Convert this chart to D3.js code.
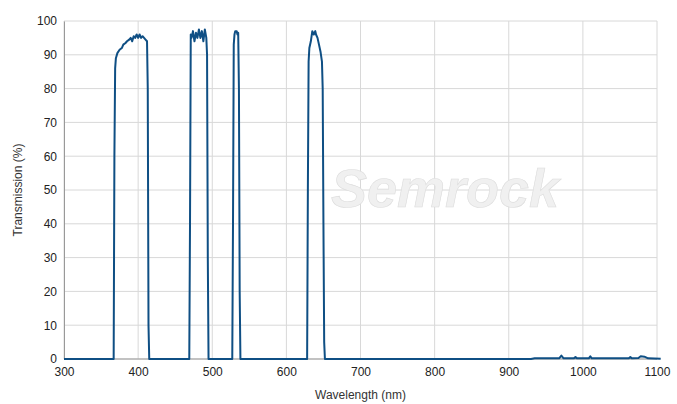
<!DOCTYPE html>
<html><head><meta charset="utf-8">
<script src="https://cdn.jsdelivr.net/npm/d3@7"></script>
<style>body{margin:0;background:#fff;font-family:"Liberation Sans",Arial,sans-serif}</style>
</head><body><svg id="c" width="677" height="404"></svg>
<script>
// transmission spectrum (nm, %)
const band1 = [[300,0],[365,0],[367,0],[368,60],[369,86],[370,89],[372,90.5],[375,91.5],[378,92],[380,93],[383,93.5],[385,94],[388,94.5],[390,95],[392,94],[394,95.5],[396,95],[398,96],[400,95],[402,96],[404,95],[406,95.5],[408,95],[410,94.5],[412,94],[413,80],[414,10],[415,0]];
const band2 = [[469,0],[470,40],[471,96],[472,95],[474,97],[476,94],[478,96.5],[480,95],[482,97.5],[484,95],[486,97],[488,94],[490,97.5],[492,95],[493,90],[494,30],[495,0]];
const band3 = [[527,0],[528,40],[529,93],[530,96],[531,97],[533,97],[534,96],[535,96.5],[536,80],[537,20],[538,0]];
const band4 = [[628,0],[629,50],[630,88],[631,92],[633,94],[635,97],[637,96],[639,97],[640,96],[642,95],[644,93],[646,91],[648,88],[649,80],[650,40],[651,5],[652,0]];
const tail = [[700,0],[930,0],[935,0.2],[968,0.2],[971,1],[974,0.2],[988,0.2],[990,0.6],[992,0.2],[1008,0.2],[1010,0.8],[1012,0.2],[1062,0.2],[1064,0.6],[1066,0.2],[1075,0.3],[1078,0.8],[1083,0.7],[1088,0.2],[1105,0.1]];
const xTicks = [300,400,500,600,700,800,900,1000,1100];
const yTicks = [0,10,20,30,40,50,60,70,80,90,100];

const data = band1.concat(band2, band3, band4, tail);
const svg = d3.select("#c");
const m = {l:64, r:20, t:21, b:45};
const W = 677, H = 404;
const x = d3.scaleLinear().domain([300,1100]).range([m.l, 657]);
const y = d3.scaleLinear().domain([0,100]).range([359, m.t]);

// grid
svg.append("g").selectAll("line").data(xTicks).join("line")
  .attr("x1", d => x(d)).attr("x2", d => x(d)).attr("y1", y(0)).attr("y2", y(100))
  .attr("stroke", "#d8d8d8");
svg.append("g").selectAll("line").data(yTicks).join("line")
  .attr("x1", m.l).attr("x2", W - m.r).attr("y1", d => y(d)).attr("y2", d => y(d))
  .attr("stroke", "#d8d8d8");

// watermark
svg.append("text").attr("x", 445).attr("y", 207).attr("text-anchor", "middle")
  .attr("font-size", 54).attr("font-weight", "bold").attr("font-style", "italic")
  .attr("fill", "#f0f0f0").attr("stroke", "#dcdcdc").attr("stroke-width", 0.6)
  .text("Semrock");

const xa = svg.append("g").attr("transform", `translate(0,${y(0)})`)
  .call(d3.axisBottom(x).tickValues(xTicks).tickFormat(d3.format("d")).tickSize(0).tickPadding(8));
xa.select(".domain").attr("stroke", "#999").attr("d", `M${m.l},0H${W - m.r}`);
const ya = svg.append("g").attr("transform", `translate(${m.l},0)`)
  .call(d3.axisLeft(y).tickValues(yTicks).tickSize(0).tickPadding(7));
ya.select(".domain").attr("stroke", "#999");
svg.selectAll(".tick text").attr("font-size", 12).attr("fill", "#222")
  .attr("font-family", "Liberation Sans, Arial, sans-serif");

svg.append("path").datum(data)
  .attr("d", d3.line().x(d => x(d[0])).y(d => y(d[1])))
  .attr("fill", "none").attr("stroke", "#0f4f84").attr("stroke-width", 2).attr("stroke-linejoin", "round");

svg.append("text").attr("x", (m.l + 657) / 2).attr("y", 399).attr("text-anchor", "middle")
  .attr("font-size", 12).attr("fill", "#333").text("Wavelength (nm)");
svg.append("text").attr("transform", `translate(22,${(y(0) + y(100)) / 2}) rotate(-90)`)
  .attr("text-anchor", "middle").attr("font-size", 12).attr("fill", "#333").text("Transmission (%)");
</script></body></html>
